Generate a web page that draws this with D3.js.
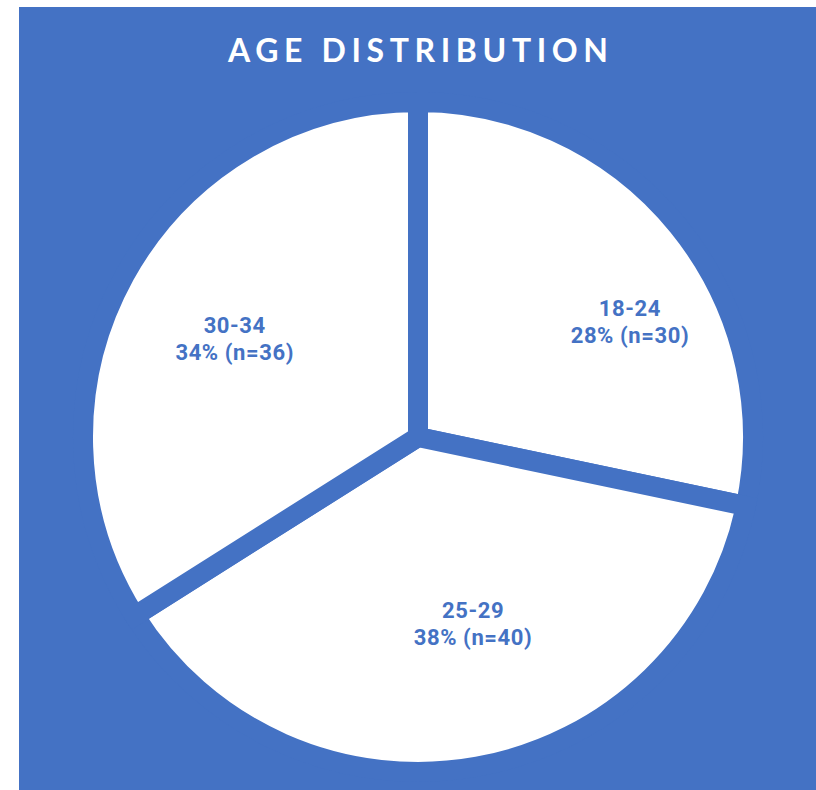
<!DOCTYPE html>
<html>
<head>
<meta charset="utf-8">
<script src="https://cdn.jsdelivr.net/npm/d3@7"></script>
<style>
  body { margin: 0; background: #fff; }
  svg { display: block; }
</style>
</head>
<body>
<svg width="816" height="790"></svg>
<script>
var categories = ["18-24", "25-29", "30-34"];
var counts = [30, 40, 36];
var percents = [28, 38, 34];

var svg = d3.select("svg"),
    width = +svg.attr("width"),
    height = +svg.attr("height"),
    blue = "#4472C4";

// blue panel
svg.append("rect")
    .attr("x", 19).attr("y", 7)
    .attr("width", width - 19).attr("height", height - 7)
    .attr("fill", blue);

var txt = "AGE DISTRIBUTION";
var title = svg.append("text")
    .attr("x", 418)
    .attr("y", 62)
    .attr("text-anchor", "middle")
    .attr("fill", "#fff")
    .style("font-family", "Lato, sans-serif")
    .style("font-weight", "bold")
    .style("font-size", "32px")
    .text(txt);
// stretch title to the width in the reference
var tw = title.node().getComputedTextLength();
var ls = (380 - tw) / (txt.length - 1);
title.style("letter-spacing", ls + "px")
    .attr("x", 418 + ls / 2);

var cx = 418, cy = 437, radius = 335;
var g = svg.append("g").attr("transform", "translate(" + cx + "," + cy + ")");

var data = categories.map(function (c, i) {
    return { name: c, value: counts[i], pct: percents[i] };
});

var pie = d3.pie()
    .sort(null)
    .value(function (d) { return d.value; });

var path = d3.arc()
    .outerRadius(radius)
    .innerRadius(0);

var label = d3.arc()
    .outerRadius(215)
    .innerRadius(215);

// small nudges so labels sit where the reference puts them
var nudge = { "18-24": [45, 19], "25-29": [17, -26], "30-34": [5, 5] };

var arc = g.selectAll(".arc")
    .data(pie(data))
    .enter().append("g")
    .attr("class", "arc");

arc.append("path")
    .attr("d", path)
    .attr("fill", "#fff")
    .attr("stroke", blue)
    .attr("stroke-width", 20)
    .attr("stroke-linejoin", "miter");

var lbl = arc.append("text")
    .attr("transform", function (d) {
        var c = label.centroid(d), n = nudge[d.data.name];
        return "translate(" + (c[0] + n[0]) + "," + (c[1] + n[1]) + ")";
    })
    .attr("text-anchor", "middle")
    .attr("fill", blue)
    .style("font-family", "Roboto, sans-serif")
    .style("font-weight", "bold")
    .style("font-size", "22px")
    .style("letter-spacing", "0.6px");

lbl.append("tspan")
    .attr("x", 0)
    .attr("y", -5)
    .text(function (d) { return d.data.name; });
lbl.append("tspan")
    .attr("x", 0)
    .attr("y", 22)
    .text(function (d) { return d.data.pct + "% (n=" + d.data.value + ")"; });
</script>
</body>
</html>
